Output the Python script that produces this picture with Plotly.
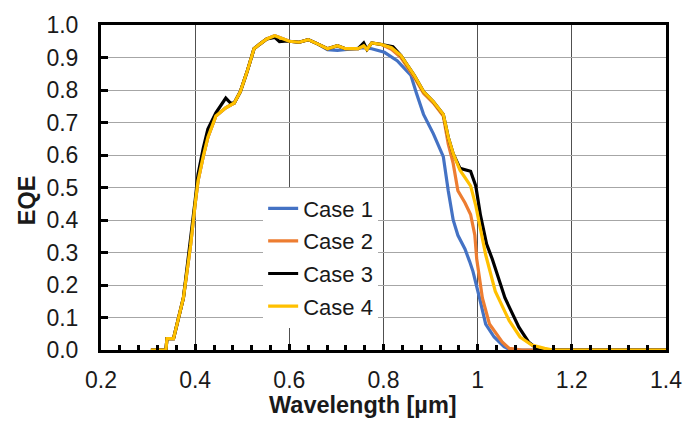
import plotly.graph_objects as go

# ---- data ----
case_names = ["Case 1", "Case 2", "Case 3", "Case 4"]
case_colors = ["#4472C4", "#ED7D31", "#000000", "#FFC000"]

wl_case1 = [0.306, 0.338, 0.340, 0.354, 0.375, 0.390, 0.400, 0.406, 0.417, 0.427, 0.444, 0.465,
            0.483, 0.496, 0.510, 0.525, 0.538, 0.552, 0.569, 0.583, 0.600, 0.621, 0.640, 0.660,
            0.681, 0.702, 0.719, 0.746, 0.758, 0.775, 0.802, 0.829, 0.858, 0.870, 0.885, 0.906,
            0.927, 0.9375, 0.948, 0.958, 0.973, 0.983, 0.990, 1.004, 1.017, 1.035, 1.056, 1.070, 1.400]
eqe_case1 = [0.0, 0.0, 0.035, 0.035, 0.16, 0.32, 0.45, 0.52, 0.595, 0.655, 0.72, 0.745,
             0.76, 0.795, 0.855, 0.927, 0.942, 0.957, 0.967, 0.96, 0.95, 0.947, 0.955, 0.942,
             0.924, 0.922, 0.924, 0.927, 0.93, 0.927, 0.916, 0.89, 0.846, 0.79, 0.725, 0.665,
             0.595, 0.49, 0.40, 0.353, 0.311, 0.272, 0.242, 0.16, 0.08, 0.04, 0.01, 0.0, 0.0]

wl_case2 = [0.306, 0.338, 0.340, 0.354, 0.375, 0.390, 0.400, 0.406, 0.417, 0.427, 0.444, 0.465,
            0.483, 0.496, 0.510, 0.525, 0.538, 0.552, 0.569, 0.583, 0.600, 0.621, 0.640, 0.660,
            0.681, 0.702, 0.719, 0.746, 0.758, 0.765, 0.775, 0.796, 0.817, 0.837, 0.865, 0.885,
            0.906, 0.927, 0.9375, 0.948, 0.958, 0.973, 0.985, 0.994, 0.998, 1.010, 1.025, 1.052,
            1.067, 1.094, 1.400]
eqe_case2 = [0.0, 0.0, 0.035, 0.035, 0.16, 0.32, 0.45, 0.52, 0.595, 0.655, 0.72, 0.745,
             0.76, 0.795, 0.855, 0.927, 0.942, 0.957, 0.967, 0.96, 0.95, 0.947, 0.955, 0.942,
             0.927, 0.936, 0.927, 0.927, 0.936, 0.925, 0.945, 0.94, 0.925, 0.90, 0.84, 0.79,
             0.76, 0.72, 0.634, 0.574, 0.49, 0.453, 0.417, 0.353, 0.28, 0.16, 0.08, 0.025,
             0.005, 0.0, 0.0]

wl_case3 = [0.306, 0.338, 0.340, 0.354, 0.375, 0.390, 0.400, 0.406, 0.417, 0.427, 0.444, 0.465,
            0.475, 0.483, 0.496, 0.510, 0.525, 0.538, 0.552, 0.569, 0.579, 0.590, 0.600, 0.621,
            0.640, 0.660, 0.681, 0.702, 0.719, 0.746, 0.758, 0.765, 0.775, 0.796, 0.820, 0.837,
            0.865, 0.885, 0.906, 0.927, 0.9375, 0.948, 0.9625, 0.985, 0.996, 1.006, 1.019, 1.031,
            1.058, 1.0875, 1.108, 1.129, 1.400]
eqe_case3 = [0.0, 0.0, 0.035, 0.035, 0.16, 0.33, 0.46, 0.54, 0.62, 0.68, 0.73, 0.775,
             0.76, 0.76, 0.795, 0.855, 0.927, 0.942, 0.957, 0.962, 0.949, 0.95, 0.95, 0.947,
             0.955, 0.942, 0.927, 0.936, 0.927, 0.927, 0.945, 0.925, 0.945, 0.94, 0.933, 0.906,
             0.846, 0.795, 0.764, 0.725, 0.655, 0.604, 0.559, 0.55, 0.505, 0.414, 0.326, 0.28,
             0.16, 0.07, 0.025, 0.0, 0.0]

wl_case4 = [0.306, 0.338, 0.340, 0.354, 0.375, 0.390, 0.400, 0.406, 0.417, 0.427, 0.444, 0.465,
            0.483, 0.496, 0.510, 0.525, 0.538, 0.552, 0.569, 0.583, 0.600, 0.621, 0.640, 0.660,
            0.681, 0.702, 0.719, 0.746, 0.758, 0.765, 0.775, 0.796, 0.817, 0.837, 0.865, 0.885,
            0.906, 0.927, 0.9375, 0.948, 0.9625, 0.985, 0.996, 1.006, 1.017, 1.0375, 1.067, 1.090,
            1.115, 1.142, 1.160, 1.400]
eqe_case4 = [0.0, 0.0, 0.035, 0.035, 0.16, 0.32, 0.45, 0.52, 0.595, 0.655, 0.72, 0.745,
             0.76, 0.795, 0.855, 0.927, 0.942, 0.957, 0.967, 0.96, 0.95, 0.947, 0.955, 0.942,
             0.927, 0.936, 0.927, 0.927, 0.936, 0.925, 0.945, 0.94, 0.93, 0.906, 0.846, 0.795,
             0.764, 0.725, 0.655, 0.604, 0.553, 0.505, 0.444, 0.372, 0.293, 0.18, 0.09, 0.04,
             0.015, 0.005, 0.0, 0.0]

x_series = [wl_case1, wl_case2, wl_case3, wl_case4]
y_series = [eqe_case1, eqe_case2, eqe_case3, eqe_case4]

x_title = "Wavelength [µm]"
y_title = "EQE"

FONT = "Liberation Sans, Arial, sans-serif"

fig = go.Figure()
for name, color, xs, ys in zip(case_names, case_colors, x_series, y_series):
    fig.add_trace(go.Scatter(x=xs, y=ys, mode="lines", name=name, legendgroup=name,
                             line=dict(color=color, width=3.2)))

fig.update_layout(
    width=694, height=422,
    margin=dict(l=101, r=17, t=19, b=72),
    paper_bgcolor="white", plot_bgcolor="white",
    font=dict(family=FONT, size=23, color="#1a1a1a"),
    showlegend=True,
    legend=dict(x=0.287, y=0.50, xanchor="left", yanchor="top",
                bgcolor="white", borderwidth=0, tracegroupgap=1,
                font=dict(family=FONT, size=22, color="#1a1a1a")),
    xaxis=dict(range=[0.2, 1.4], dtick=0.2, tick0=0.2, showline=True, linecolor="black",
               linewidth=3, mirror=True, ticks="inside", ticklen=6, tickwidth=3,
               tickcolor="black", showgrid=True, gridcolor="#505050", gridwidth=1,
               zeroline=False, ticklabelstandoff=7,
               minor=dict(dtick=0.04, ticks="inside", ticklen=5, tickwidth=3,
                          tickcolor="black", showgrid=False)),
    yaxis=dict(range=[0, 1.0], dtick=0.1, tickformat=".1f", showline=True, linecolor="black",
               linewidth=3, mirror=True, ticks="inside", ticklen=7, tickwidth=3,
               tickcolor="black", showgrid=True, gridcolor="#A6A6A6", gridwidth=1,
               zeroline=False, ticklabelstandoff=15),
)

fig.add_annotation(text="<b>" + x_title + "</b>", xref="paper", yref="paper",
                   x=0.464, y=-0.168, xanchor="center", yanchor="middle", showarrow=False,
                   font=dict(family=FONT, size=23.5, color="#1a1a1a"))
fig.add_annotation(text="<b>" + y_title + "</b>", xref="paper", yref="paper",
                   x=-0.132, y=0.462, xanchor="center", yanchor="middle", showarrow=False,
                   textangle=-90,
                   font=dict(family=FONT, size=23.5, color="#1a1a1a"))

fig.write_html("out.html")
